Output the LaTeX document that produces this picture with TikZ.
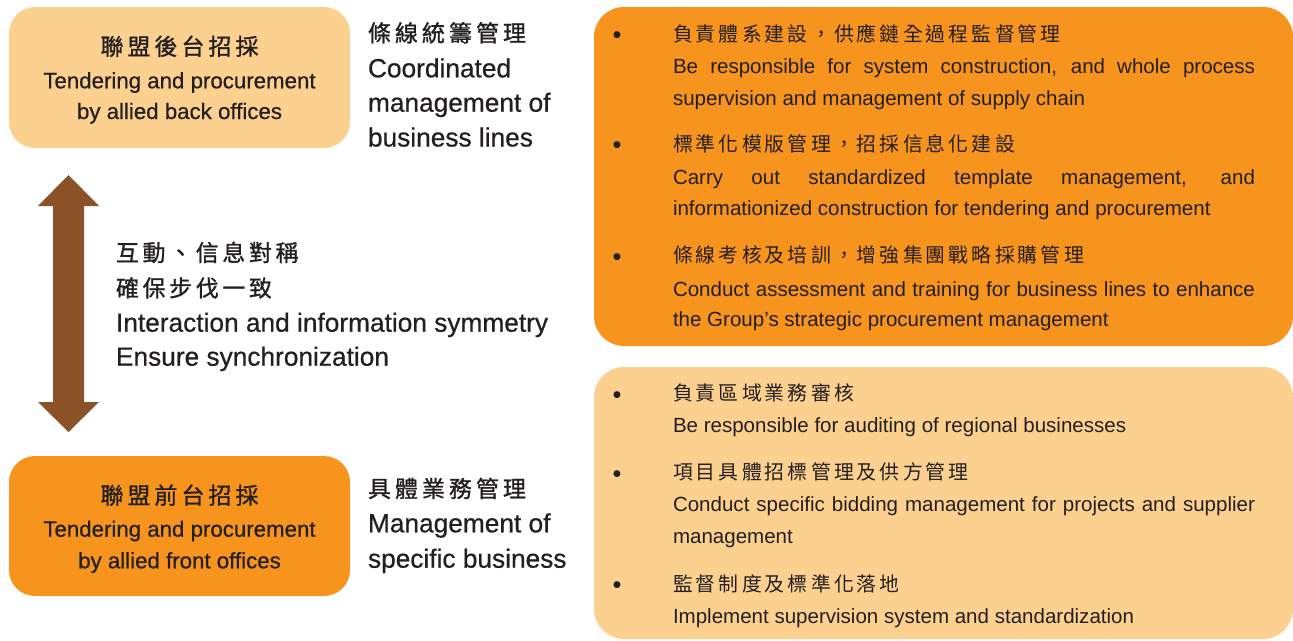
\documentclass[tikz,border=0pt]{standalone}
\usepackage{fontspec}
\setmainfont{Liberation Sans}
\newfontfamily\cjk{Noto Sans CJK TC}
\newfontfamily\cjkmed[FakeBold=1.2]{Noto Sans CJK TC}
\newfontfamily\medsans[FakeBold=0.6]{Liberation Sans}
\definecolor{lightor}{HTML}{FCD08F}
\definecolor{darkor}{HTML}{F7941E}
\definecolor{arrowbrown}{HTML}{8B5228}
\definecolor{ink}{HTML}{231F20}
\makeatletter
\newcommand\spacedcjk[2]{{\def\spc@g{#1}\@tfor\spc@c:=#2\do{\spc@c\hspace{\spc@g}}\unskip}}
\makeatother
\newcommand\ltfont{\medsans\fontsize{16.7}{20}\selectfont}
\newcommand\bgfont{\medsans\fontsize{19.7}{24}\selectfont}
\newcommand\rtfont{\fontsize{15.4}{19}\selectfont}
\newcommand\bulfont{\fontsize{19}{22}\selectfont}
\newcommand\cjkbig{\cjkmed\fontsize{17.2}{20}\selectfont}
\newcommand\cjksmall{\cjk\fontsize{14.9}{18}\selectfont}
\newcommand\bigcjk[1]{{\cjkbig\spacedcjk{3.05pt}{#1}}}
\newcommand\midcjk[1]{{\cjkbig\spacedcjk{2.75pt}{#1}}}
\newcommand\smallcjk[1]{{\cjksmall\spacedcjk{2.35pt}{#1}}}
\newcommand\just[1]{\makebox[436.5pt][s]{#1}}
\begin{document}
\begin{tikzpicture}[x=0.75pt,y=-0.75pt,
  box/.style={rectangle, inner sep=0, outer sep=0},
  txt/.style={inner sep=0, outer sep=0, text=ink, anchor=base west},
  ctxt/.style={inner sep=0, outer sep=0, text=ink, anchor=base},
  bul/.style={inner sep=0, outer sep=0, text=ink, anchor=base, font=\bulfont}]
\useasboundingbox (0,0) rectangle (1293,640);
% boxes
\node (back) [box, fill=lightor, rounded corners=19.5pt, minimum width=255.75pt, minimum height=105.75pt] at (179.5,77.5) {};
\node (front) [box, fill=darkor, rounded corners=19.5pt, minimum width=255.75pt, minimum height=105pt] at (179.5,526) {};
\node (coordbox) [box, fill=darkor, rounded corners=22.5pt, minimum width=524.25pt, minimum height=254.25pt] at (943.5,176.5) {};
\node (specbox) [box, fill=lightor, rounded corners=22.5pt, minimum width=524.25pt, minimum height=204pt] at (943.5,503) {};
% double arrow
\fill[arrowbrown] (68.5,175) -- (99,206) -- (84,206) -- (84,402) -- (99,402) -- (68.5,432)
  -- (38,402) -- (53,402) -- (53,206) -- (38,206) -- cycle;
% back box text
\node (backcn) [ctxt] at (179.5,55) {\bigcjk{聯盟後台招採}};
\node (backen1) [ctxt, font=\ltfont] at (179.5,88.3) {Tendering and procurement};
\node (backen2) [ctxt, font=\ltfont] at (179.5,119) {by allied back offices};
% coordinated label
\node (cocn) [txt] at (368,41.6) {\bigcjk{條線統籌管理}};
\node (coen1) [txt, font=\bgfont] at (368,77.3) {Coordinated};
\node (coen2) [txt, font=\bgfont] at (368,111.7) {management of};
\node (coen3) [txt, font=\bgfont] at (368,146.5) {business lines};
% middle
\node (midcn1) [txt] at (116,261.2) {\midcjk{互動、信息對稱}};
\node (midcn2) [txt] at (116,296.6) {\midcjk{確保步伐一致}};
\node (miden1) [txt, font=\bgfont] at (116,331.7) {Interaction and information symmetry};
\node (miden2) [txt, font=\bgfont] at (116,365.7) {Ensure synchronization};
% front box text
\node (frontcn) [ctxt] at (179.5,503.9) {\bigcjk{聯盟前台招採}};
\node (fronten1) [ctxt, font=\ltfont] at (179.5,536.7) {Tendering and procurement};
\node (fronten2) [ctxt, font=\ltfont] at (179.5,568.3) {by allied front offices};
% specific label
\node (spcn) [txt] at (368,497.2) {\bigcjk{具體業務管理}};
\node (spen1) [txt, font=\bgfont] at (368,532.3) {Management of};
\node (spen2) [txt, font=\bgfont] at (368,567.7) {specific business};
% right top box
\node (b1) [bul] at (617,43.8) {•};
\node (r1cn) [txt] at (673,41.7) {\smallcjk{負責體系建設，供應鏈全過程監督管理}};
\node (r1en1) [txt, font=\rtfont] at (673,73.3) {\just{Be responsible for system construction, and whole process}};
\node (r1en2) [txt, font=\rtfont] at (673,105) {supervision and management of supply chain};
\node (b2) [bul] at (617,153.8) {•};
\node (r2cn) [txt] at (673,151.4) {\smallcjk{標準化模版管理，招採信息化建設}};
\node (r2en1) [txt, font=\rtfont] at (673,184) {\just{Carry out standardized template management, and}};
\node (r2en2) [txt, font=\rtfont] at (673,215) {informationized construction for tendering and procurement};
\node (b3) [bul] at (617,265.3) {•};
\node (r3cn) [txt] at (673,262.9) {\smallcjk{條線考核及培訓，增強集團戰略採購管理}};
\node (r3en1) [txt, font=\rtfont] at (673,296) {\just{Conduct assessment and training for business lines to enhance}};
\node (r3en2) [txt, font=\rtfont] at (673,326.7) {the Group’s strategic procurement management};
% right bottom box
\node (b4) [bul] at (617,403) {•};
\node (s1cn) [txt] at (673,400.7) {\smallcjk{負責區域業務審核}};
\node (s1en1) [txt, font=\rtfont] at (673,432.3) {Be responsible for auditing of regional businesses};
\node (b5) [bul] at (617,482) {•};
\node (s2cn) [txt] at (673,479.7) {\smallcjk{項目具體招標管理及供方管理}};
\node (s2en1) [txt, font=\rtfont] at (673,511.7) {\just{Conduct specific bidding management for projects and supplier}};
\node (s2en2) [txt, font=\rtfont] at (673,543.3) {management};
\node (b6) [bul] at (617,593.7) {•};
\node (s3cn) [txt] at (673,591.4) {\smallcjk{監督制度及標準化落地}};
\node (s3en1) [txt, font=\rtfont] at (673,623.3) {Implement supervision system and standardization};
\end{tikzpicture}
\end{document}
